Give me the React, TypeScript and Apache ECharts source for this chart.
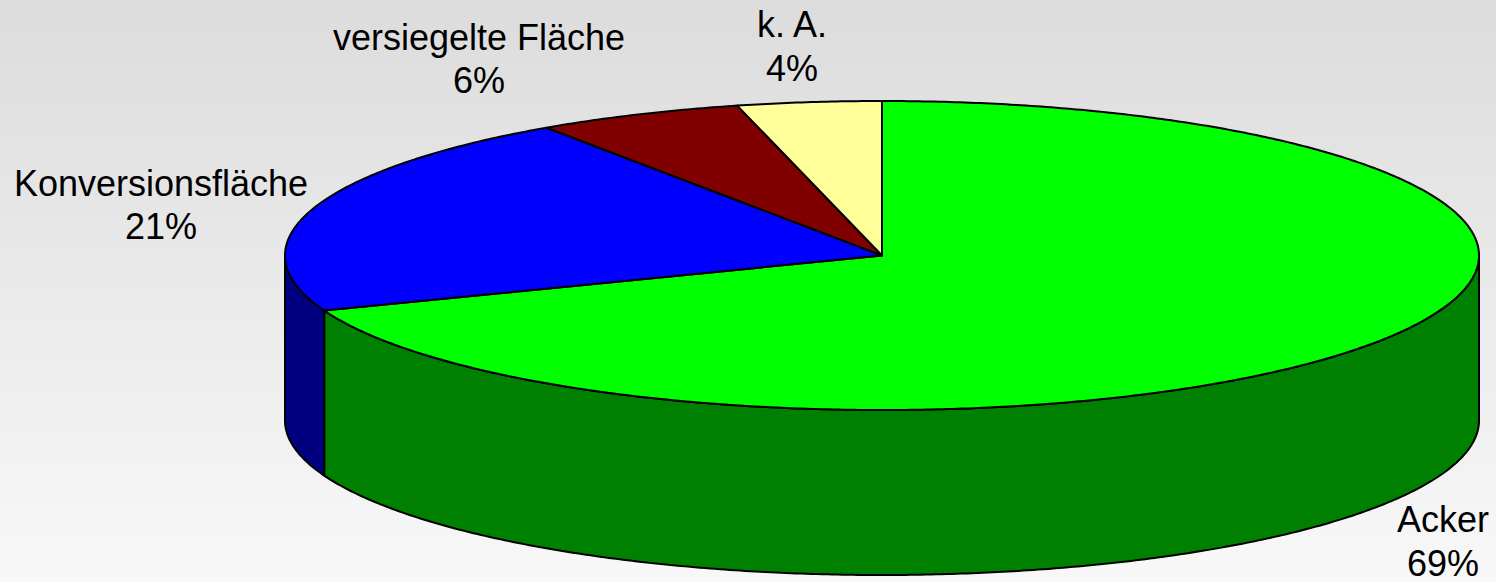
import React, { useEffect, useRef } from "react";
import * as echarts from "echarts";

const categories = ["Acker", "Konversionsfläche", "versiegelte Fläche", "k. A."];
const shares = [69.2, 21.3, 5.6, 3.9];
const topColors = ["#00ff00", "#0000ff", "#800000", "#ffff99"];
const sideColors = ["#008000", "#000080", "#400000", "#808050"];

export default function App() {
  const ref = useRef<HTMLDivElement>(null);
  useEffect(() => {
    const chart = echarts.init(ref.current!, null, { renderer: "svg" });
    const total = shares.reduce((a, b) => a + b, 0);
    const starts: number[] = [];
    const ends: number[] = [];
    let acc = 0;
    shares.forEach((v) => {
      starts.push(90 - (acc / total) * 360);
      acc += v;
      ends.push(90 - (acc / total) * 360);
    });
    const geo = { cx: 882, cy: 255.5, rx: 597, ry: 154.5, depth: 165 };
    const pt = (deg: number, dy = 0) => {
      const r = (deg * Math.PI) / 180;
      return [geo.cx + geo.rx * Math.cos(r), geo.cy - geo.ry * Math.sin(r) + dy];
    };
    const arc = (from: number, to: number, dy = 0) => {
      const n = Math.max(2, Math.ceil(Math.abs(to - from) / 0.5));
      const pts: number[][] = [];
      for (let i = 0; i <= n; i++) pts.push(pt(from + ((to - from) * i) / n, dy));
      return pts;
    };
    // [x, y of first line centre, y of second line centre]
    const labelAnchors = [
      [1443, 519, 563],
      [161, 183, 226],
      [479, 37, 80],
      [792, 24, 68],
    ];
    const font = '36px "Liberation Sans", Arial, sans-serif';
    const edge = { stroke: "#000", lineWidth: 2, lineJoin: "round" as const };

    const graphic: any[] = [];
    categories.forEach((c, i) => {
      const lines = [c, `${Math.round((shares[i] / total) * 100)}%`];
      lines.forEach((t, j) => {
        graphic.push({
          type: "text",
          x: labelAnchors[i][0],
          y: labelAnchors[i][1 + j],
          z: 10,
          style: {
            text: t,
            font,
            fill: "#000",
            align: "center",
            verticalAlign: "middle",
            lineHeight: 36,
          },
        });
      });
    });

    chart.setOption({
      animation: false,
      backgroundColor: new echarts.graphic.LinearGradient(0, 0, 0, 1, [
        { offset: 0, color: "#dcdcdc" },
        { offset: 1, color: "#f8f8f8" },
      ]),
      series: [
        {
          type: "custom",
          coordinateSystem: "none",
          data: shares,
          z: 1,
          renderItem: (params: any) => {
            const i = params.dataIndex;
            const s = starts[i];
            const e = ends[i];
            const children: any[] = [];
            for (let k = -2; k <= 1; k++) {
              const lo = Math.max(e, -180 + 360 * k);
              const hi = Math.min(s, 360 * k);
              if (hi > lo) {
                const top = arc(lo, hi, 0);
                const bottom = arc(hi, lo, geo.depth);
                children.push({
                  type: "polygon",
                  shape: { points: top.concat(bottom) },
                  style: { fill: sideColors[i], ...edge },
                });
              }
            }
            return { type: "group", children };
          },
        },
        {
          type: "custom",
          coordinateSystem: "none",
          data: shares,
          z: 2,
          renderItem: (params: any) => {
            const i = params.dataIndex;
            const pts = [[geo.cx, geo.cy]].concat(arc(starts[i], ends[i], 0));
            return {
              type: "polygon",
              shape: { points: pts },
              style: { fill: topColors[i], ...edge },
            };
          },
        },
      ],
      graphic,
    });
    return () => chart.dispose();
  }, []);
  return (
    <div
      ref={ref}
      style={{ position: "fixed", left: 0, top: 0, width: 1496, height: 582 }}
    />
  );
}
